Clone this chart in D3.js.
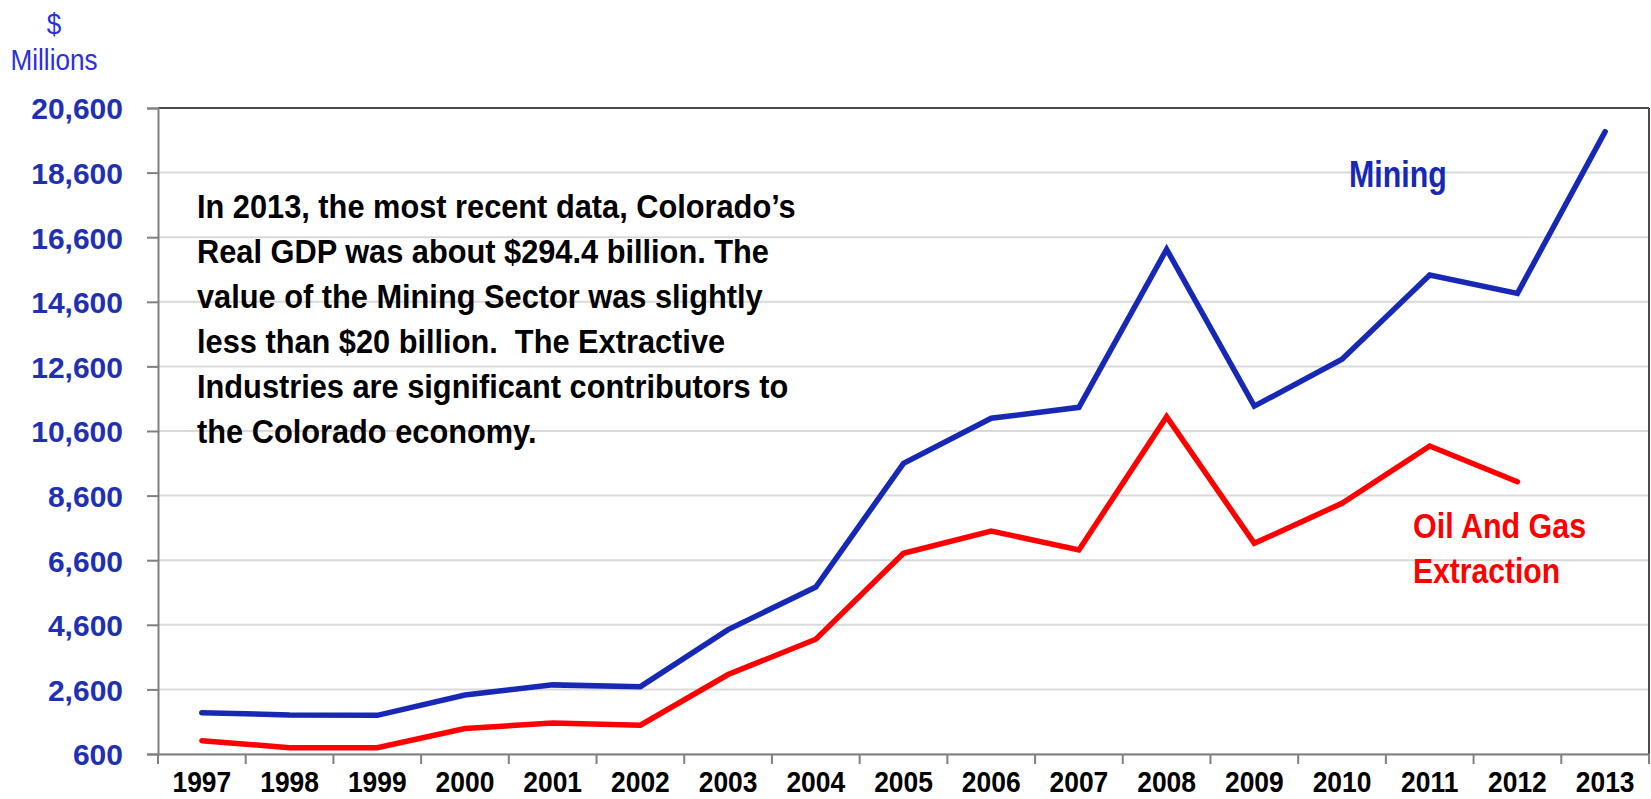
<!DOCTYPE html>
<html>
<head>
<meta charset="utf-8">
<script src="https://cdn.jsdelivr.net/npm/d3@7"></script>
<style>
  html, body { margin: 0; padding: 0; background: #ffffff; }
  svg { display: block; }
  text { font-family: "Liberation Sans", Arial, sans-serif; }
</style>
</head>
<body>
<svg id="chart" width="1651" height="799"></svg>
<script>
// Colorado GDP by industry, $ millions
const years = ["1997","1998","1999","2000","2001","2002","2003","2004","2005","2006","2007","2008","2009","2010","2011","2012","2013"];
const mining = [1880, 1807, 1798, 2427, 2740, 2685, 4450, 5770, 9597, 10995, 11333, 16225, 11370, 12820, 15430, 14860, 19870];
const oilGas = [1012, 795, 795, 1390, 1560, 1490, 3060, 4154, 6814, 7504, 6916, 11043, 7123, 8362, 10136, 9030];
const yTicks = [600, 2600, 4600, 6600, 8600, 10600, 12600, 14600, 16600, 18600, 20600];
const noteLines = [
  "In 2013, the most recent data, Colorado\u2019s",
  "Real GDP was about $294.4 billion. The",
  "value of the Mining Sector was slightly",
  "less than $20 billion.  The Extractive",
  "Industries are significant contributors to",
  "the Colorado economy."
];

const svg = d3.select("#chart");
const m = { left: 158, right: 1649, top: 108, bottom: 754 };

const x = d3.scaleBand().domain(years).range([m.left, m.right]).paddingInner(0).paddingOuter(0);
const y = d3.scaleLinear().domain([600, 20600]).range([m.bottom, m.top]);

const blue = "#1729b4";
const red = "#ff0000";
const axisBlue = "#1f30b2";

// condensed-looking text: horizontally squeezed around its anchor point
function narrowText(parent, tx, ty, sx, str) {
  return parent.append("text")
    .attr("transform", `translate(${tx},${ty}) scale(${sx},1)`)
    .text(str);
}

// horizontal gridlines
svg.append("g")
  .selectAll("line")
  .data(yTicks)
  .join("line")
  .attr("x1", m.left).attr("x2", m.right)
  .attr("y1", d => y(d)).attr("y2", d => y(d))
  .attr("stroke", "#d9d9d9").attr("stroke-width", 2);

// plot frame: top and right edges
svg.append("line").attr("x1", m.left).attr("x2", m.right).attr("y1", m.top).attr("y2", m.top)
  .attr("stroke", "#4a4a4a").attr("stroke-width", 2);
svg.append("line").attr("x1", m.right).attr("x2", m.right).attr("y1", m.top).attr("y2", m.bottom)
  .attr("stroke", "#4a4a4a").attr("stroke-width", 2);

// y axis
const yAxis = svg.append("g")
  .attr("transform", `translate(${m.left},0)`)
  .call(d3.axisLeft(y).tickValues(yTicks).tickSize(11).tickPadding(24).tickFormat(d3.format(",")));
yAxis.select(".domain").attr("stroke", "#808080").attr("stroke-width", 2);
yAxis.selectAll(".tick line").attr("stroke", "#808080").attr("stroke-width", 2);
yAxis.selectAll(".tick text")
  .attr("fill", axisBlue)
  .attr("font-size", 30)
  .attr("font-weight", "bold")
  .attr("dy", "0.36em");

// x axis: labels centred in each year band, ticks on band boundaries
const xSx = 0.88;
const xAxis = svg.append("g")
  .attr("transform", `translate(0,${m.bottom})`)
  .call(d3.axisBottom(x).tickSize(0).tickPadding(17));
xAxis.select(".domain").attr("stroke", "#808080").attr("stroke-width", 2);
xAxis.selectAll(".tick text")
  .attr("fill", "#000")
  .attr("font-size", 30)
  .attr("font-weight", "bold")
  .attr("dy", "0.71em")
  .attr("transform", `scale(${xSx},1)`);
xAxis.append("g")
  .selectAll("line")
  .data(d3.range(years.length + 1))
  .join("line")
  .attr("x1", i => m.left + i * x.step())
  .attr("x2", i => m.left + i * x.step())
  .attr("y1", 0).attr("y2", 10)
  .attr("stroke", "#808080").attr("stroke-width", 2);

// series lines
const line = d3.line()
  .x((d, i) => x(years[i]) + x.bandwidth() / 2)
  .y(d => y(d));

svg.append("path").datum(oilGas)
  .attr("d", line).attr("fill", "none")
  .attr("stroke", red).attr("stroke-width", 5.5)
  .attr("stroke-linejoin", "miter").attr("stroke-linecap", "round");

svg.append("path").datum(mining)
  .attr("d", line).attr("fill", "none")
  .attr("stroke", blue).attr("stroke-width", 5.5)
  .attr("stroke-linejoin", "miter").attr("stroke-linecap", "round");

// unit label
narrowText(svg, 54, 34, 0.87, "$")
  .attr("text-anchor", "middle").attr("fill", "#2b2fe0").attr("font-size", 30);
narrowText(svg, 54, 70, 0.87, "Millions")
  .attr("text-anchor", "middle").attr("fill", "#2b2fe0").attr("font-size", 30);

// series labels
narrowText(svg, 1349, 187, 0.82, "Mining")
  .attr("fill", blue).attr("font-size", 37).attr("font-weight", "bold");
narrowText(svg, 1413, 538, 0.87, "Oil And Gas")
  .attr("fill", red).attr("font-size", 35).attr("font-weight", "bold");
narrowText(svg, 1413, 583, 0.86, "Extraction")
  .attr("fill", red).attr("font-size", 35).attr("font-weight", "bold");

// annotation
const note = svg.append("g");
noteLines.forEach((str, i) => {
  narrowText(note, 197, 218 + i * 45, 0.905, str)
    .attr("fill", "#000").attr("font-size", 34).attr("font-weight", "bold")
    .style("white-space", "pre");
});
</script>
</body>
</html>
